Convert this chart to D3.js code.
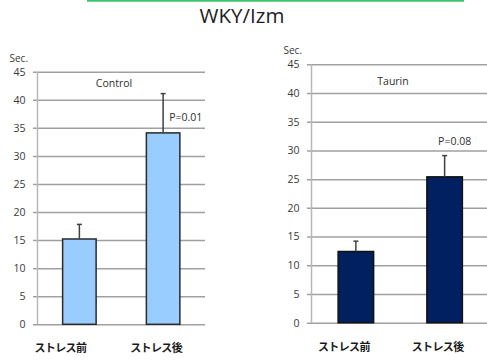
<!DOCTYPE html>
<html>
<head>
<meta charset="utf-8">
<script src="https://cdn.jsdelivr.net/npm/d3@7"></script>
<style>
  html, body { margin: 0; padding: 0; background: #fff; }
  svg { display: block; }
  text { font-family: "Open Sans", "Noto Sans", sans-serif; }
  .cat { font-family: "Noto Sans CJK JP", sans-serif; font-weight: bold; }
</style>
</head>
<body>
<svg id="chart" width="487" height="361"></svg>
<script>
// Categories and values (seconds)
const categories = ["ストレス前", "ストレス後"];
const controlMeans = [15.2, 34.1];
const controlErrors = [2.6, 7.0];
const taurinMeans = [12.4, 25.4];
const taurinErrors = [1.8, 3.7];
const yTicks = [0, 5, 10, 15, 20, 25, 30, 35, 40, 45];
const pValues = ["P=0.01", "P=0.08"];

const svg = d3.select("#chart");

// accent line and title
svg.append("line")
  .attr("x1", 87).attr("x2", 464).attr("y1", 0.75).attr("y2", 0.75)
  .attr("stroke", "#3cc46c").attr("stroke-width", 2);

svg.append("text")
  .attr("x", 242).attr("y", 23)
  .attr("text-anchor", "middle")
  .attr("font-size", 20.5)
  .attr("fill", "#1e1e1e")
  .text("WKY/Izm");

function panel(cfg) {
  const y = d3.scaleLinear().domain([0, 45]).range([cfg.y0, cfg.yTop]);
  const x = d3.scaleBand().domain(categories)
    .range([cfg.left, cfg.right])
    .paddingInner(0.6).paddingOuter(0.3);

  const g = svg.append("g");

  // gridlines + tick labels
  const yAxis = d3.axisLeft(y).tickValues(yTicks)
    .tickSize(-(cfg.gridEnd - cfg.left)).tickSizeOuter(0).tickPadding(12);
  const ga = g.append("g").attr("transform", `translate(${cfg.left},0)`).call(yAxis);
  ga.select(".domain").remove();
  ga.selectAll(".tick line")
    .attr("x1", -4.5)
    .attr("stroke", "#a0a0a0").attr("stroke-width", 1.5);
  ga.selectAll(".tick text")
    .attr("font-size", 10.5).attr("fill", "#3a3a3a")
    .attr("font-family", "'Open Sans', sans-serif");

  // vertical axis line
  g.append("line")
    .attr("x1", cfg.left).attr("x2", cfg.left)
    .attr("y1", y(45)).attr("y2", y(0))
    .attr("stroke", "#b8b8b8").attr("stroke-width", 1.5);

  g.append("text")
    .attr("x", cfg.left - 28).attr("y", y(45) - 10)
    .attr("font-size", 10).attr("fill", "#3a3a3a")
    .text("Sec.");

  // bars
  g.selectAll("rect.bar").data(cfg.means).join("rect")
    .attr("class", "bar")
    .attr("x", (d, i) => x(categories[i]))
    .attr("width", x.bandwidth())
    .attr("y", d => y(d))
    .attr("height", d => y(0) - y(d))
    .attr("fill", cfg.fill)
    .attr("stroke", cfg.stroke).attr("stroke-width", 1.5);

  // error bars (upper)
  cfg.means.forEach((m, i) => {
    const cx = x(categories[i]) + x.bandwidth() / 2;
    const top = y(m + cfg.errors[i]);
    g.append("line")
      .attr("x1", cx).attr("x2", cx).attr("y1", y(m)).attr("y2", top)
      .attr("stroke", "#404040").attr("stroke-width", 1.5);
    g.append("line")
      .attr("x1", cx - 2.5).attr("x2", cx + 2.5).attr("y1", top).attr("y2", top)
      .attr("stroke", "#404040").attr("stroke-width", 1.5);
  });

  // panel label and significance
  g.append("text")
    .attr("x", cfg.labelX).attr("y", cfg.labelY)
    .attr("text-anchor", "middle")
    .attr("font-size", 10.5).attr("fill", "#303030")
    .text(cfg.label);

  const cx2 = x(categories[1]) + x.bandwidth() / 2;
  g.append("text")
    .attr("x", cx2 + cfg.pDx)
    .attr("y", y(cfg.means[1] + cfg.errors[1]) + cfg.pDy)
    .attr("text-anchor", cfg.pAnchor)
    .attr("font-size", 10.5).attr("fill", "#303030")
    .text(cfg.p);

  // category labels
  g.selectAll("text.cat").data(categories).join("text")
    .attr("class", "cat")
    .attr("x", (d, i) => x(d) + x.bandwidth() / 2 + cfg.catDx[i])
    .attr("y", cfg.catY)
    .attr("text-anchor", "middle")
    .attr("font-size", 11).attr("letter-spacing", -0.6)
    .attr("fill", "#1a1a1a")
    .text(d => d);
}

panel({
  left: 37.5, right: 205, gridEnd: 205, y0: 324.3, yTop: 71.7,
  means: controlMeans, errors: controlErrors,
  fill: "#99ccff", stroke: "#2a2a2a",
  label: "Control", labelX: 114, labelY: 87,
  p: pValues[0], pDx: 6, pDy: 27, pAnchor: "start",
  catDx: [-19, -7], catY: 352
});

panel({
  left: 311.5, right: 489, gridEnd: 487, y0: 322.7, yTop: 64.3,
  means: taurinMeans, errors: taurinErrors,
  fill: "#002060", stroke: "#111111",
  label: "Taurin", labelX: 393, labelY: 85,
  p: pValues[1], pDx: 10, pDy: -11, pAnchor: "middle",
  catDx: [-12, -7], catY: 351
});
</script>
</body>
</html>
